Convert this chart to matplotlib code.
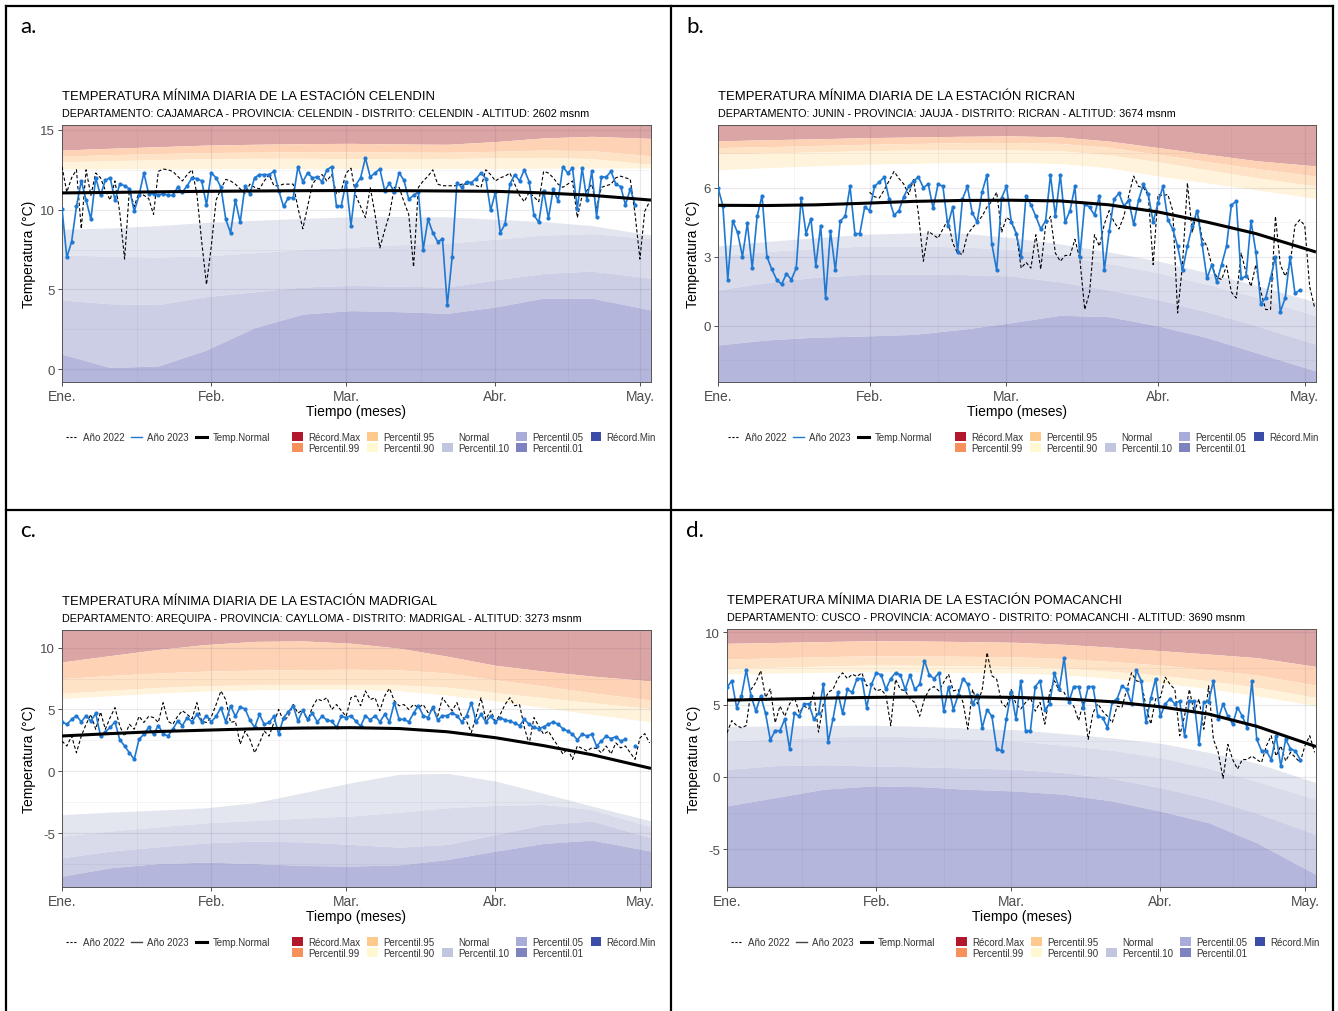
import numpy as np
import matplotlib as mpl
mpl.use('Agg')
import matplotlib.pyplot as plt
from matplotlib.lines import Line2D
from matplotlib.patches import Patch

plt.rcParams['font.family'] = ['Liberation Sans', 'DejaVu Sans']
plt.rcParams['axes.unicode_minus'] = False

W, H = 1338, 1012
nan = np.nan

# eje x (dias desde el 1 de enero)
month_ticks = [0, 31, 59, 90, 120]
month_labels = ['Ene.', 'Feb.', 'Mar.', 'Abr.', 'May.']
mid_month = [15.5, 45, 74.5, 105]
knots = [0, 10, 20, 30, 40, 50, 60, 70, 80, 90, 100, 110, 122.3]

# ---------------- a. CELENDIN ----------------
a_2023 = [10.07, 7.0, 8.0, 10.2, 11.8, 10.6, 9.4, 12.0, 10.9, 11.85,
          12.0, 10.6, 11.6, 11.5, 11.3, 9.9, 10.9, 12.3, 11.0, 11.0,
          10.9, 11.0, 10.9, 10.9, 11.4, 11.1, 11.5, 12.0, 11.95, 11.8,
          10.3, 12.3, 12.0, 11.4, 9.4, 8.55, 10.6, 9.2, 11.5, 11.0,
          12.0, 12.2, 12.2, 12.2, 12.4, 11.2, 10.2, 10.75, 10.75, 12.7,
          11.75, 12.3, 12.0, 12.05, 11.75, 12.5, 12.7, 10.2, 10.25, 11.75,
          9.0, 11.55, 12.0, 13.25, 12.05, 12.3, 12.55, 11.2, 11.65, 11.1,
          12.3, 11.85, 10.65, 10.9, 11.1, 7.5, 9.4, 8.55, 8.0, 8.15,
          4.0, 7.0, 11.7, 11.4, 11.75, 11.7, 11.95, 12.3, 11.95, 9.95,
          11.1, 8.55, 9.1, 11.6, 12.2, 11.8, 12.5, 11.75, 9.65, 9.2,
          11.2, 9.45, 11.3, 10.55, 12.7, 12.3, 12.6, 10.05, 12.6, 10.6,
          12.4, 9.55, 12.05, 12.05, 12.4, 11.6, 11.45, 10.3, 11.3, 10.3]
a_2022 = [12.7, 11.1, 12.0, 12.5, 8.8, 12.5, 10.9, 12.3, 12.0, 11.2,
          10.6, 11.8, 9.8, 6.9, 11.3, 10.2, 11.1, 10.9, 10.7, 9.7,
          12.4, 12.55, 12.5, 12.4, 12.1, 11.8, 12.2, 12.5, 11.0, 8.0,
          5.3, 7.7, 10.6, 11.3, 11.9, 11.8, 11.6, 11.3, 11.0, 11.6,
          11.4, 11.3, 11.8, 12.2, 11.5, 11.5, 11.6, 11.6, 11.6, 10.1,
          8.8, 10.2, 11.6, 12.0, 12.2, 11.8, 12.2, 11.0, 11.2, 12.3,
          12.6, 10.9, 10.2, 9.5, 11.4, 9.7, 7.6, 8.7, 9.7, 11.4,
          11.4, 10.5, 9.7, 6.4, 11.4, 11.8, 12.1, 12.5, 11.6, 11.5,
          11.5, 11.5, 11.5, 11.6, 11.6, 11.6, 11.5, 11.4, 12.5, 12.2,
          11.8, 12.0, 12.1, 12.3, 11.6, 10.9, 10.5, 11.1, 10.8, 10.5,
          12.4, 12.3, 12.0, 11.6, 11.4, 11.6, 11.8, 9.5, 10.9, 11.2,
          11.6, 10.1, 11.4, 11.5, 11.6, 12.0, 12.1, 12.0, 11.9, 9.7,
          6.9, 9.9, 10.5]
a_normal = [11.05, 11.08, 11.12, 11.15, 11.17, 11.19, 11.2, 11.19, 11.17, 11.15, 11.05, 10.9, 10.6]
a_rmax = [13.74, 13.85, 13.95, 14.05, 14.1, 14.14, 14.16, 14.12, 14.1, 14.27, 14.5, 14.6, 14.47]
a_p99 = [13.36, 13.45, 13.52, 13.58, 13.61, 13.63, 13.63, 13.61, 13.6, 13.66, 13.74, 13.7, 13.38]
a_p95 = [13.0, 13.07, 13.13, 13.2, 13.22, 13.22, 13.2, 13.2, 13.2, 13.25, 13.28, 13.2, 12.84]
a_p90 = [12.55, 12.55, 12.55, 12.56, 12.56, 12.57, 12.57, 12.57, 12.57, 12.58, 12.59, 12.6, 12.6]
a_p10 = [8.77, 8.85, 9.0, 9.2, 9.33, 9.45, 9.55, 9.57, 9.55, 9.4, 9.25, 9.0, 8.4]
a_p05 = [7.17, 7.08, 7.03, 7.1, 7.3, 7.5, 7.65, 7.8, 7.9, 8.15, 8.4, 8.5, 8.18]
a_p01 = [4.34, 4.1, 4.05, 4.55, 4.85, 5.15, 5.25, 5.2, 5.15, 5.6, 6.0, 6.15, 5.7]
a_rmin = [0.94, 0.1, 0.2, 1.2, 2.6, 3.45, 3.67, 3.6, 3.5, 3.9, 4.45, 4.45, 3.71]

# ---------------- b. RICRAN ----------------
b_2023 = [6.0, 5.2, 2.0, 4.55, 4.05, 3.0, 4.45, 2.5, 4.75, 5.65,
          3.0, 2.45, 2.0, 1.8, 2.25, 2.0, 2.5, 5.55, 4.0, 4.65,
          2.6, 4.35, 1.2, 4.1, 2.4, 4.55, 4.75, 6.05, 4.0, 4.0,
          5.15, 5.0, 6.05, 6.25, 6.45, 5.5, 4.8, 5.0, 5.6, 6.05,
          6.3, 6.45, 6.0, 6.15, 5.1, 6.15, 6.05, 4.35, 5.15, 3.2,
          5.5, 6.05, 4.9, 4.5, 5.8, 6.55, 3.55, 2.4, 5.55, 6.05,
          4.5, 4.0, 3.0, 5.65, 5.25, 4.75, 4.2, 4.55, 6.55, 4.75,
          6.55, 4.5, 5.0, 6.05, 3.0, 5.3, 5.15, 4.8, 5.65, 2.4,
          4.1, 5.5, 5.75, 5.2, 5.45, 4.4, 5.45, 6.15, 5.7, 4.5,
          5.35, 6.05, 4.6, 4.2, 3.45, 2.4, 3.45, 4.35, 5.0, 3.55,
          2.05, 2.65, 1.9, 2.65, 3.45, 5.25, 5.4, 2.05, 2.15, 4.55,
          3.2, 0.95, 1.2, 2.05, 3.0, 0.6, 1.2, 3.0, 1.4, 1.55]
b_2022 = [nan] * 31 + [
          5.8, 5.6, 5.55, 5.9, 6.3, 6.7, 6.4, 6.15, 5.7, 6.35,
          4.85, 2.8, 4.1, 3.95, 3.8, 4.2, 4.6, 3.6, 3.15, 3.1,
          3.95, 4.25, 4.5, 4.75, 5.15, 5.4, 5.8, 4.05, 4.7, 4.55,
          4.05, 2.5, 2.75, 2.5, 3.95, 2.45, 4.35, 4.75, 3.15, 2.8,
          3.05, 3.05, 3.75, 2.9, 0.7, 1.45, 3.95, 3.45, 4.4, 5.0,
          4.5, 4.2, 4.75, 5.65, 6.5, 6.05, 6.0, 5.65, 2.65, 5.7,
          5.65, 5.7, 5.0, 0.55, 2.65, 6.2, 4.05, 5.05, 3.8, 3.45,
          2.6, 2.1, 2.0, 2.6, 1.45, 1.2, 3.15, 2.3, 1.7, 2.65,
          1.5, 0.7, 0.7, 4.75, 2.65, 2.15, 2.65, 4.35, 4.6, 4.35,
          1.7, 0.8]
b_normal = [5.23, 5.22, 5.25, 5.32, 5.4, 5.44, 5.45, 5.42, 5.25, 4.94, 4.5, 4.0, 3.2]
b_rmax = [8.03, 8.08, 8.12, 8.17, 8.2, 8.23, 8.25, 8.2, 8.02, 7.74, 7.45, 7.17, 6.94]
b_p99 = [7.74, 7.78, 7.83, 7.88, 7.92, 7.95, 7.96, 7.92, 7.75, 7.45, 7.13, 6.83, 6.5]
b_p95 = [7.45, 7.5, 7.55, 7.6, 7.63, 7.64, 7.64, 7.6, 7.42, 7.12, 6.77, 6.43, 6.07]
b_p90 = [6.77, 6.86, 6.94, 7.01, 7.05, 7.08, 7.09, 7.04, 6.85, 6.5, 6.2, 5.9, 5.52]
b_p10 = [3.46, 3.66, 3.82, 3.97, 4.03, 4.02, 3.83, 3.55, 3.2, 2.81, 2.3, 1.75, 1.03]
b_p05 = [3.03, 3.22, 3.36, 3.46, 3.46, 3.42, 3.32, 3.05, 2.7, 2.3, 1.8, 1.25, 0.42]
b_p01 = [1.55, 1.88, 2.1, 2.23, 2.24, 2.22, 2.16, 1.9, 1.55, 1.14, 0.6, 0.0, -0.81]
b_rmin = [-0.84, -0.62, -0.5, -0.45, -0.38, -0.16, 0.13, 0.45, 0.39, -0.01, -0.52, -1.17, -1.97]

# ---------------- c. MADRIGAL ----------------
c_2023 = [4.0, 3.8, 4.2, 4.5, 4.0, 4.5, 4.05, 4.7, 2.85, 3.2,
          3.55, 4.0, 2.55, 2.05, 1.5, 0.97, 2.6, 3.0, 3.55, 3.0,
          3.7, 3.05, 2.85, 3.4, 4.05, 3.7, 4.35, 4.0, 4.6, 4.0,
          4.5, 4.0, 4.45, 5.15, 4.0, 5.3, 4.45, 5.2, 5.05, 4.15,
          3.55, 4.6, 3.8, 3.95, 4.45, 3.0, 4.35, 4.8, 5.3, 4.05,
          4.95, 4.2, 4.7, 4.0, 4.45, 4.15, 4.05, 3.55, 4.45, 4.35,
          4.5, 4.05, 3.65, 4.5, 4.15, 4.5, 4.0, 4.6, 4.0, 5.55,
          4.2, 4.2, 4.0, 4.7, 5.3, 4.5, 4.35, 5.2, 4.15, 4.5,
          4.5, 4.75, 4.5, 4.0, 4.5, 5.55, 4.0, 4.6, 4.0, 4.45,
          4.0, 4.35, 4.15, 4.05, 3.9, 3.7, 4.2, 3.8, 3.55, 3.45,
          3.6, 3.8, 4.0, 3.8, 3.45, 3.25, 3.0, 2.55, 3.0, 2.85,
          3.0, 2.05, 2.45, 2.85, 2.65, 2.8, 2.45, 2.6, nan, 2.05]
c_2022 = [2.45, 2.05, 2.85, 1.5, 2.85, 3.8, 4.6, 3.4, 4.8, 3.4,
          4.35, 5.15, 3.65, 2.85, 3.8, 3.4, 4.45, 3.95, 4.45, 4.35,
          3.95, 5.55, 4.05, 3.8, 4.45, 4.9, 4.6, 4.25, 5.55, 4.05,
          3.95, 4.4, 5.4, 6.5, 5.8, 3.95, 4.05, 2.2, 3.25, 2.6,
          1.5, 2.3, 3.25, 2.85, 3.95, 5.0, 4.05, 4.45, 5.4, 4.7,
          5.0, 4.05, 5.2, 5.85, 5.7, 5.95, 5.0, 5.4, 4.9, 4.45,
          5.95, 6.1, 5.3, 6.5, 5.8, 5.95, 4.9, 6.1, 6.7, 5.7,
          5.3, 5.4, 5.0, 5.4, 5.15, 5.4, 4.75, 5.0, 4.45, 5.95,
          5.4, 4.9, 5.55, 4.45, 4.05, 3.15, 4.45, 5.95, 4.2, 4.9,
          4.05, 4.6, 5.4, 5.95, 5.3, 5.4, 3.55, 2.2, 4.35, 3.65,
          3.0, 3.25, 2.6, 2.05, 1.4, 1.85, 0.97, 2.05, 1.85, 1.65,
          1.9, 1.85, 1.5, 2.05, 1.4, 2.3, 1.9, 2.05, 1.5, 0.97,
          2.7, 3.05, 2.3]
c_normal = [2.86, 3.05, 3.22, 3.33, 3.44, 3.5, 3.53, 3.46, 3.2, 2.72, 2.08, 1.35, 0.24]
c_rmax = [8.84, 9.35, 9.85, 10.25, 10.5, 10.54, 10.35, 9.95, 9.3, 8.57, 8.1, 7.7, 7.3]
c_p99 = [7.49, 7.75, 7.95, 8.1, 8.18, 8.22, 8.25, 8.2, 7.95, 7.39, 6.9, 6.35, 5.77]
c_p95 = [6.3, 6.55, 6.78, 6.93, 6.98, 7.01, 7.03, 6.98, 6.8, 6.36, 5.95, 5.55, 5.07]
c_p90 = [5.88, 6.1, 6.32, 6.48, 6.57, 6.62, 6.63, 6.5, 6.15, 5.69, 5.15, 4.6, 3.99]
c_p10 = [-3.5, -3.29, -3.13, -2.94, -2.53, -1.73, -0.92, -0.24, -0.16, -0.78, -1.78, -2.8, -4.0]
c_p05 = [-5.23, -4.82, -4.47, -4.15, -3.96, -3.77, -3.6, -3.29, -2.94, -2.75, -2.67, -3.07, -4.47]
c_p01 = [-6.98, -6.44, -6.09, -5.77, -5.63, -5.69, -5.9, -6.12, -5.9, -5.1, -4.29, -4.0, -5.36]
c_rmin = [-8.46, -7.79, -7.44, -7.33, -7.44, -7.6, -7.65, -7.55, -7.12, -6.44, -5.82, -5.55, -6.44]

# ---------------- d. POMACANCHI ----------------
d_2023 = [6.2, 6.65, 4.8, 5.6, 7.4, 5.6, 4.55, 5.6, 4.4, 2.55,
          3.2, 3.2, 4.0, 1.95, 4.4, 4.2, 5.05, 5.05, 4.0, 4.4,
          6.4, 2.4, 4.0, 5.85, 4.4, 6.05, 5.85, 6.8, 6.8, 4.8,
          6.4, 7.2, 7.05, 6.05, 6.8, 7.2, 7.05, 6.05, 7.05, 6.05,
          6.4, 8.05, 7.05, 6.8, 7.2, 4.55, 6.25, 4.65, 5.65, 6.8,
          6.4, 5.05, 5.65, 3.4, 4.65, 4.2, 1.95, 1.8, 4.0, 5.85,
          4.0, 6.65, 3.2, 3.2, 6.25, 6.65, 4.65, 5.05, 7.2, 6.05,
          8.25, 5.2, 6.25, 6.25, 4.8, 6.25, 6.25, 4.2, 4.1, 3.4,
          5.2, 5.4, 6.3, 6.05, 5.05, 7.4, 6.65, 3.8, 5.45, 6.8,
          4.2, 5.05, 5.4, 5.05, 5.25, 2.85, 5.25, 5.25, 2.25, 5.2,
          5.2, 6.65, 4.0, 5.05, 4.2, 3.65, 4.8, 4.2, 3.4, 6.65,
          2.6, 1.8, 1.8, 1.2, 2.85, 0.75, 2.6, 1.95, 1.8, 1.2]
d_2022 = [3.05, 3.9, 3.55, 3.4, 3.55, 6.05, 6.55, 7.35, 5.5, 6.1,
          3.75, 4.9, 4.2, 5.05, 5.5, 4.45, 4.9, 4.7, 5.85, 3.1,
          5.05, 5.85, 6.05, 6.8, 7.2, 6.8, 7.1, 6.95, 7.2, 6.3,
          6.4, 5.95, 6.05, 5.65, 3.55, 6.75, 6.05, 5.95, 5.4, 5.15,
          4.2, 5.4, 6.05, 6.25, 5.95, 6.55, 7.1, 5.95, 6.05, 5.15,
          3.3, 6.05, 5.05, 6.05, 8.6, 7.0, 6.75, 5.15, 4.8, 6.05,
          5.05, 4.7, 5.15, 5.5, 4.55, 5.15, 3.65, 5.85, 6.65, 5.95,
          5.85, 5.15, 4.9, 3.9, 5.15, 2.6, 4.45, 5.05, 4.55, 4.2,
          3.75, 4.9, 4.8, 6.05, 7.2, 6.65, 6.55, 4.9, 3.65, 5.4,
          5.5, 6.9, 6.4, 6.05, 2.85, 4.2, 6.05, 4.45, 5.4, 3.3,
          6.3, 2.6, 1.7, -0.1, 2.25, 1.2, 0.55, 1.2, 1.2, 1.45,
          1.2, 1.0, 2.15, 2.85, 1.45, 2.15, 1.1, 1.7, 1.35, 1.0,
          2.15, 2.85, 1.7]
d_normal = [5.31, 5.38, 5.45, 5.5, 5.53, 5.54, 5.5, 5.4, 5.2, 4.85, 4.35, 3.5, 2.1]
d_rmax = [9.24, 9.3, 9.36, 9.42, 9.4, 9.36, 9.31, 9.17, 8.97, 8.73, 8.5, 8.25, 7.64]
d_p99 = [8.15, 8.24, 8.32, 8.38, 8.37, 8.34, 8.31, 8.18, 7.98, 7.74, 7.42, 7.05, 6.35]
d_p95 = [7.5, 7.58, 7.67, 7.74, 7.72, 7.68, 7.64, 7.52, 7.3, 7.04, 6.65, 6.2, 5.5]
d_p90 = [7.11, 7.17, 7.23, 7.27, 7.25, 7.21, 7.18, 7.05, 6.8, 6.49, 6.1, 5.6, 4.92]
d_p10 = [3.49, 3.53, 3.56, 3.58, 3.5, 3.38, 3.26, 3.0, 2.7, 2.33, 1.7, 0.95, -0.39]
d_p05 = [2.49, 2.63, 2.75, 2.84, 2.76, 2.63, 2.49, 2.2, 1.85, 1.34, 0.6, -0.3, -1.55]
d_p01 = [0.53, 0.78, 0.85, 0.76, 0.7, 0.62, 0.53, 0.3, -0.1, -0.74, -1.5, -2.5, -3.97]
d_rmin = [-2.0, -1.43, -0.85, -0.62, -0.67, -0.85, -0.97, -1.2, -1.66, -2.36, -3.16, -4.55, -6.74]

# colores de bandas (mezclados con blanco) y de la leyenda
band_fill = ['#dca5a5', '#fdd2b5', '#fee3c6', '#fff3db', '#ffffff',
             '#e3e5ef', '#d9dbeb', '#cccee5', '#b4b7db']
legend_cols = ['#b2182b', '#f7905a', '#fdc98c', '#fff8d0', '#ffffff',
               '#c1c6de', '#a9acd8', '#7e83c0', '#3b4ba8']
legend_names = ['Récord.Max', 'Percentil.99', 'Percentil.95', 'Percentil.90', 'Normal',
                'Percentil.10', 'Percentil.05', 'Percentil.01', 'Récord.Min']
blue = '#1f78d2'

panels = [
    dict(tag='a.', station='CELENDIN',
         sub='DEPARTAMENTO: CAJAMARCA - PROVINCIA: CELENDIN - DISTRITO: CELENDIN - ALTITUD: 2602 msnm',
         box=(62, 126, 651, 383), ylim=(-0.81, 15.31), yt=[0, 5, 10, 15], ym=[2.5, 7.5, 12.5],
         y22=a_2022, y23=a_2023, normal=a_normal,
         bounds=[a_rmax, a_p99, a_p95, a_p90, a_p10, a_p05, a_p01, a_rmin],
         tagxy=(20, 27), leg_x=(66, 292), leg_y=438, leg_blue=True),
    dict(tag='b.', station='RICRAN',
         sub='DEPARTAMENTO: JUNIN - PROVINCIA: JAUJA - DISTRITO: RICRAN - ALTITUD: 3674 msnm',
         box=(718, 126, 1316, 383), ylim=(-2.45, 8.72), yt=[0, 3, 6], ym=[-1.5, 1.5, 4.5, 7.5],
         y22=b_2022, y23=b_2023, normal=b_normal,
         bounds=[b_rmax, b_p99, b_p95, b_p90, b_p10, b_p05, b_p01, b_rmin],
         tagxy=(686, 27), leg_x=(728, 955), leg_y=438, leg_blue=True),
    dict(tag='c.', station='MADRIGAL',
         sub='DEPARTAMENTO: AREQUIPA - PROVINCIA: CAYLLOMA - DISTRITO: MADRIGAL - ALTITUD: 3273 msnm',
         box=(62, 631, 651, 888), ylim=(-9.34, 11.42), yt=[-5, 0, 5, 10], ym=[-7.5, -2.5, 2.5, 7.5],
         y22=c_2022, y23=c_2023, normal=c_normal,
         bounds=[c_rmax, c_p99, c_p95, c_p90, c_p10, c_p05, c_p01, c_rmin],
         tagxy=(20, 531), leg_x=(66, 292), leg_y=943, leg_blue=False),
    dict(tag='d.', station='POMACANCHI',
         sub='DEPARTAMENTO: CUSCO - PROVINCIA: ACOMAYO - DISTRITO: POMACANCHI - ALTITUD: 3690 msnm',
         box=(727, 630, 1316, 888), ylim=(-7.61, 10.23), yt=[-5, 0, 5, 10], ym=[-7.5, -2.5, 2.5, 7.5],
         y22=d_2022, y23=d_2023, normal=d_normal,
         bounds=[d_rmax, d_p99, d_p95, d_p90, d_p10, d_p05, d_p01, d_rmin],
         tagxy=(686, 531), leg_x=(731, 956), leg_y=943, leg_blue=False),
]

fig = plt.figure(figsize=(W / 100, H / 100), dpi=100)

# marco de la figura
frame = dict(color='black', lw=1.6, transform=fig.transFigure)
fig.add_artist(Line2D([6 / W, 6 / W], [0, 1 - 7 / H], **frame))
fig.add_artist(Line2D([1333 / W, 1333 / W], [0, 1 - 7 / H], **frame))
fig.add_artist(Line2D([6 / W, 1333 / W], [1 - 7 / H, 1 - 7 / H], **frame))
fig.add_artist(Line2D([671 / W, 671 / W], [0, 1 - 7 / H], **frame))
fig.add_artist(Line2D([6 / W, 1333 / W], [1 - 511 / H, 1 - 511 / H], **frame))

for p in panels:
    x0, y0, x1, y1 = p['box']
    ax = fig.add_axes([x0 / W, 1 - y1 / H, (x1 - x0) / W, (y1 - y0) / H])
    lo, hi = p['ylim']
    ax.set_xlim(0, 122.3)
    ax.set_ylim(lo, hi)

    top = np.full(len(knots), hi)
    bot = np.full(len(knots), lo)
    edges = [top] + [np.array(b) for b in p['bounds']] + [bot]
    # bandas: RecMax, P99, P95, P90, (Normal), P10, P05, P01, RecMin
    for i, col in enumerate(band_fill):
        ax.fill_between(knots, edges[i + 1], edges[i], color=col, lw=0, zorder=0.2)

    ax.set_axisbelow(True)
    ax.set_xticks(month_ticks)
    ax.set_xticklabels(month_labels)
    ax.set_xticks(mid_month, minor=True)
    ax.set_yticks(p['yt'])
    ax.set_yticks(p['ym'], minor=True)
    ax.grid(which='major', color='#5a5a78', alpha=0.13, lw=0.9)
    ax.grid(which='minor', color='#5a5a78', alpha=0.08, lw=0.6)
    ax.tick_params(which='major', direction='out', length=3, width=0.6, color='#333333',
                   labelcolor='#4d4d4d', pad=2)
    ax.tick_params(which='minor', length=0)
    ax.tick_params(axis='x', labelsize=10)
    ax.tick_params(axis='y', labelsize=9.5)
    for s in ax.spines.values():
        s.set_color('#555555')
        s.set_linewidth(0.7)

    ax.plot(np.arange(len(p['y22'])), p['y22'], color='black', lw=0.8, ls=(0, (3, 2)), zorder=3)
    ax.plot(np.arange(len(p['y23'])), p['y23'], color=blue, lw=1.2, marker='o', ms=2.0, zorder=4)
    ax.plot(knots, p['normal'], color='black', lw=2.2, zorder=5, solid_capstyle='butt')

    ax.set_ylabel('Temperatura (°C)', fontsize=10, labelpad=3)
    ax.set_xlabel('Tiempo (meses)', fontsize=10, labelpad=1)

    fig.text(x0 / W, 1 - (y0 - 29) / H, 'TEMPERATURA MÍNIMA DIARIA DE LA ESTACIÓN ' + p['station'],
             fontsize=9.4, va='center', ha='left')
    fig.text(x0 / W, 1 - (y0 - 12) / H, p['sub'], fontsize=7.8, va='center', ha='left')
    tx, ty = p['tagxy']
    fig.text(tx / W, 1 - ty / H, p['tag'], fontsize=16, va='center', ha='left', family='Lato')

    # leyendas
    c23 = blue if p['leg_blue'] else '#444444'
    h_lines = [Line2D([], [], color='black', lw=0.8, ls=(0, (2, 1.5))),
               Line2D([], [], color=c23, lw=1.0),
               Line2D([], [], color='black', lw=2.2)]
    lx_lines, lx_fill = p['leg_x']
    ly = p['leg_y']
    fig.legend(h_lines, ['Año 2022', 'Año 2023', 'Temp.Normal'], ncol=3,
               loc='center left', bbox_to_anchor=(lx_lines / W, 1 - ly / H),
               frameon=False, fontsize=7, handlelength=1.1, handletextpad=0.6,
               columnspacing=0.7, borderpad=0, borderaxespad=0, labelcolor='#333333')
    h_fill = [Patch(facecolor=c, edgecolor='none') for c in legend_cols]
    fig.legend(h_fill, legend_names, ncol=5, loc='center left',
               bbox_to_anchor=(lx_fill / W, 1 - (ly + 5.5) / H),
               frameon=False, fontsize=7, handlelength=1.1, handleheight=1.1,
               handletextpad=0.55, columnspacing=0.75, labelspacing=0.12,
               borderpad=0, borderaxespad=0, labelcolor='#333333')

fig.savefig('out.png', dpi=100)
